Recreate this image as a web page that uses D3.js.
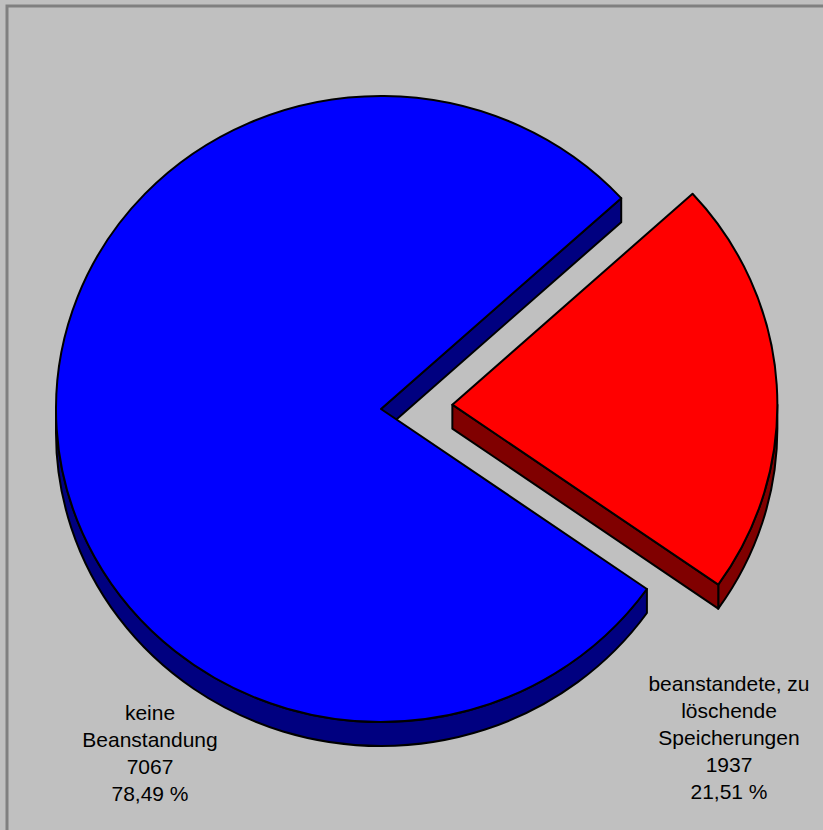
<!DOCTYPE html>
<html>
<head>
<meta charset="utf-8">
<script src="https://cdn.jsdelivr.net/npm/d3@7/dist/d3.min.js"></script>
<style>
  html, body { margin: 0; padding: 0; background: #c0c0c0; }
  svg { display: block; }
  text { font-family: "Liberation Sans", Arial, sans-serif; font-size: 21px; fill: #000; }
</style>
</head>
<body>
<script>
// Slice data
const categories = ["keine Beanstandung", "beanstandete, zu löschende Speicherungen"];
const labelLines = [["keine", "Beanstandung"], ["beanstandete, zu", "löschende", "Speicherungen"]];
const values = [7067, 1937];
const topColors = ["#0000ff", "#ff0000"];
const sideColors = ["#000080", "#800000"];
const explode = [0, 0.22];

// Layout
const W = 823, H = 830;
const cx = 381, cy = 409, rx = 325, ry = 313, depth = 24;
const startDeg = 125.1;
const labelAnchors = [[150, 720], [729, 691]];
const lineH = 27;

const svg = d3.select("body").append("svg").attr("width", W).attr("height", H);
svg.append("rect").attr("width", W).attr("height", H).attr("fill", "#c0c0c0");
// frame
svg.append("rect").attr("x", 7).attr("y", 6).attr("width", W + 10).attr("height", H + 10)
  .attr("fill", "none").attr("stroke", "#808080").attr("stroke-width", 3);

const total = d3.sum(values);
const pctFmt = v => d3.format(".2f")(v * 100).replace(".", ",") + " %";

const pie = d3.pie().sort(null)
  .startAngle(startDeg * Math.PI / 180)
  .endAngle(startDeg * Math.PI / 180 + 2 * Math.PI);
const arcs = pie(values);

// projected point on the tilted disc
function P(a, dy, off) {
  return [off[0] + rx * Math.sin(a), off[1] - ry * Math.cos(a) + dy];
}
const fmt = p => p[0].toFixed(2) + "," + p[1].toFixed(2);

function topPath(a0, a1, off) {
  const large = (a1 - a0) > Math.PI ? 1 : 0;
  return "M" + fmt(off) + "L" + fmt(P(a0, 0, off)) +
    "A" + rx + "," + ry + " 0 " + large + " 1 " + fmt(P(a1, 0, off)) + "Z";
}
function outerWall(s, e, off) {
  return "M" + fmt(P(s, 0, off)) + "A" + rx + "," + ry + " 0 0 1 " + fmt(P(e, 0, off)) +
    "L" + fmt(P(e, depth, off)) + "A" + rx + "," + ry + " 0 0 0 " + fmt(P(s, depth, off)) + "Z";
}
function radialWall(a, off) {
  return "M" + fmt(off) + "L" + fmt(P(a, 0, off)) + "L" + fmt(P(a, depth, off)) +
    "L" + fmt([off[0], off[1] + depth]) + "Z";
}
// front half of the rim (facing the viewer): angles in [PI/2, 3PI/2] mod 2PI
function frontSegments(a0, a1) {
  const segs = [];
  for (let k = -1; k <= 2; k++) {
    const s = Math.max(a0, Math.PI / 2 + 2 * Math.PI * k);
    const e = Math.min(a1, 3 * Math.PI / 2 + 2 * Math.PI * k);
    if (e > s) segs.push([s, e]);
  }
  return segs;
}

const g = svg.append("g")
  .attr("stroke", "#000").attr("stroke-width", 2).attr("stroke-linejoin", "round");

arcs.forEach((d, i) => {
  const mid = (d.startAngle + d.endAngle) / 2;
  const off = [cx + explode[i] * rx * Math.sin(mid), cy - explode[i] * ry * Math.cos(mid)];
  const sg = g.append("g").attr("class", "slice");
  // side walls
  frontSegments(d.startAngle, d.endAngle).forEach(([s, e]) => {
    sg.append("path").attr("d", outerWall(s, e, off)).attr("fill", sideColors[i]);
  });
  // radial cut walls facing the viewer
  [[d.startAngle, -1], [d.endAngle, 1]].forEach(([a, dir]) => {
    const ny = dir * Math.sin(a) * ry; // screen-y of the outward normal
    if (ny > 0) sg.append("path").attr("d", radialWall(a, off)).attr("fill", sideColors[i]);
  });
  // top face
  sg.append("path").attr("d", topPath(d.startAngle, d.endAngle, off)).attr("fill", topColors[i]);
});

// labels
arcs.forEach((d, i) => {
  const lines = labelLines[i].concat([String(values[i]), pctFmt(values[i] / total)]);
  const t = svg.append("text").attr("text-anchor", "middle");
  lines.forEach((ln, j) => {
    t.append("tspan").attr("x", labelAnchors[i][0]).attr("y", labelAnchors[i][1] + j * lineH).text(ln);
  });
});
</script>
</body>
</html>
